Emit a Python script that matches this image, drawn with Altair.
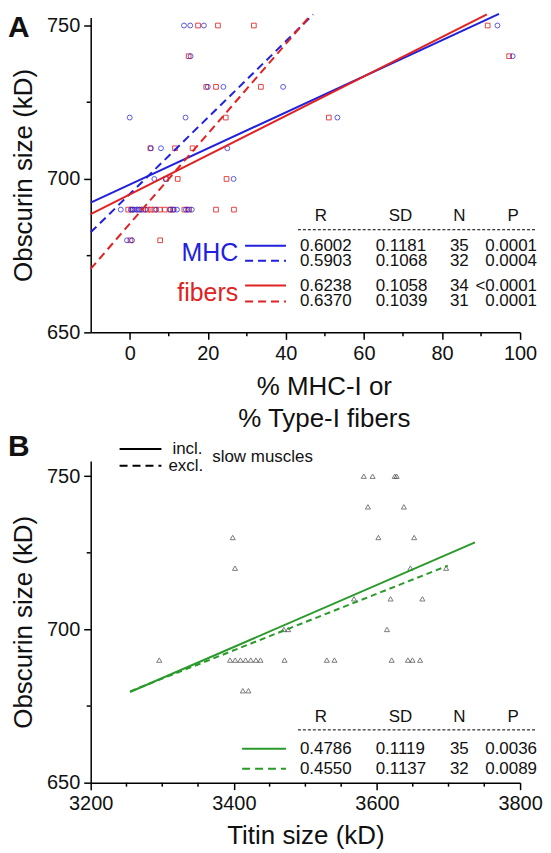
import altair as alt
import pandas as pd

# ---------------- data ----------------
# Panel A: % MHC-I (blue circles) and % Type-I fibers (red squares) vs obscurin size
mhc_x = [13.9, 15.5, 19.0, 94.2,
         15.6, 98.1,
         20.0, 24.0, 39.3,
         0.0, 14.3, 53.2,
         5.4, 8.0, 25.0,
         6.3, 9.3, 26.6,
         -2.3, 0.3, 0.8, 1.2, 1.8, 2.5, 3.0, 4.0, 6.8, 10.4, 11.3, 12.1, 14.4, 14.9, 15.9,
         -0.7, 0.6]
mhc_y = [750, 750, 750, 750,
         740, 740,
         730, 730, 730,
         720, 720, 720,
         710, 710, 710,
         700, 700, 700,
         690, 690, 690, 690, 690, 690, 690, 690, 690, 690, 690, 690, 690, 690, 690,
         680, 680]
fib_x = [17.5, 22.6, 31.8, 91.7,
         15.1, 97.2,
         19.6, 22.1, 33.6,
         24.6, 51.0,
         5.3, 11.6, 16.1,
         9.3, 12.3, 24.8,
         -0.4, 0.5, 2.2, 3.5, 4.6, 5.4, 6.3, 7.7, 9.0, 10.4, 11.1, 14.0, 15.2, 22.1, 26.7,
         0.2, 7.8]
fib_y = [750, 750, 750, 750,
         740, 740,
         730, 730, 730,
         720, 720,
         710, 710, 710,
         700, 700, 700,
         690, 690, 690, 690, 690, 690, 690, 690, 690, 690, 690, 690, 690, 690, 690,
         680, 680]

# regression lines (end points)
mhc_incl_x, mhc_incl_y = [-10, 94.6], [692.3, 753.8]
mhc_excl_x, mhc_excl_y = [-10, 47.0], [682.6, 753.6]
fib_incl_x, fib_incl_y = [-10, 91.5], [688.5, 753.6]
fib_excl_x, fib_excl_y = [-10, 45.9], [670.7, 752.7]

# Panel B: titin size vs obscurin size
titin_x = [3581.6, 3593.9, 3624.9, 3627.5,
           3587.4, 3637.6,
           3398.5, 3602.0, 3652.0,
           3401.6, 3646.7, 3696.7,
           3568.0, 3619.0, 3663.5,
           3614.0, 3470.0, 3476.0,
           3295.8, 3394.7, 3401.9, 3409.2, 3416.4, 3423.7, 3430.9, 3437.2,
           3470.9, 3529.9, 3540.6, 3620.6, 3643.3, 3649.6, 3660.3,
           3412.6, 3420.4]
titin_y = [750, 750, 750, 750,
           740, 740,
           730, 730, 730,
           720, 720, 720,
           710, 710, 710,
           700, 700, 700,
           690, 690, 690, 690, 690, 690, 690, 690,
           690, 690, 690, 690, 690, 690, 690,
           680, 680]
tit_incl_x, tit_incl_y = [3255, 3737], [679.6, 728.4]
tit_excl_x, tit_excl_y = [3255, 3699], [679.8, 720.8]

# statistics tables
table_header = ["R", "SD", "N", "P"]
table_a = [["0.6002", "0.1181", "35", "0.0001"],
           ["0.5903", "0.1068", "32", "0.0004"],
           ["0.6238", "0.1058", "34", "<0.0001"],
           ["0.6370", "0.1039", "31", "0.0001"]]
table_b = [["0.4786", "0.1119", "35", "0.0036"],
           ["0.4550", "0.1137", "32", "0.0089"]]

xA_ticks = [0, 20, 40, 60, 80, 100]
xA_minor = [10, 30, 50, 70, 90]
y_ticks = [650, 700, 750]
y_minor = [675, 725]
xB_ticks = [3200, 3400, 3600, 3800]
xB_minor = [3250, 3300, 3350, 3450, 3500, 3550, 3650, 3700, 3750]

# ---------------- styling ----------------
FONT = "Liberation Sans"
BLUE = "#2020dd"
RED = "#e02222"
GREEN = "#2a9a2a"
TXT = "#111111"
W, HA, HB = 431, 316, 323
TS = 17  # table font size

xA = alt.Scale(domain=[-10, 100], nice=False, zero=False)
yA = alt.Scale(domain=[650, 752.6], nice=False, zero=False)
xB = alt.Scale(domain=[3200, 3800], nice=False, zero=False)
yB = alt.Scale(domain=[650, 755], nice=False, zero=False)

axis_xA = alt.Axis(values=xA_ticks, title=["% MHC-I or", "% Type-I fibers"],
                   titleX=234, titleY=41, titleBaseline="top", titleLineHeight=32,
                   titleAlign="center")
axis_yA = alt.Axis(values=y_ticks, title="Obscurin size (kD)", titleX=-54,
                   titleY=HA / 2, titleAngle=270, titleBaseline="bottom", titleAlign="center")
axis_xB = alt.Axis(values=xB_ticks, format="d", title="Titin size (kD)", titleY=40,
                   titleBaseline="top", titleAlign="center")
axis_yB = alt.Axis(values=y_ticks, title="Obscurin size (kD)", titleX=-54,
                   titleY=HB / 2, titleAngle=270, titleBaseline="bottom", titleAlign="center")

one = pd.DataFrame({"t": [0]})


def txt(s, x, y, size=TS, color=TXT, align="center", baseline="middle", weight="normal"):
    return alt.Chart(pd.DataFrame({"t": [s]})).mark_text(
        font=FONT, fontSize=size, color=color, align=align, baseline=baseline,
        fontWeight=weight).encode(text="t:N", x=alt.value(x), y=alt.value(y))


def seg(x1, x2, y, color, dash=None, width=2):
    kw = dict(color=color, strokeWidth=width)
    if dash:
        kw["strokeDash"] = dash
    return alt.Chart(one).mark_rule(**kw).encode(
        x=alt.value(x1), x2=alt.value(x2), y=alt.value(y))


def line(xs, ys, sx, sy, ax, ay, color, dash=None):
    kw = dict(color=color, strokeWidth=2)
    if dash:
        kw["strokeDash"] = dash
    return alt.Chart(pd.DataFrame({"x": xs, "y": ys})).mark_line(**kw).encode(
        x=alt.X("x:Q", scale=sx, axis=ax),
        y=alt.Y("y:Q", scale=sy, axis=ay))


def minor_x(vals, scale, ax, H):
    return alt.Chart(pd.DataFrame({"x": vals})).mark_rule(color="black", strokeWidth=1.5).encode(
        x=alt.X("x:Q", scale=scale, axis=ax), y=alt.value(H), y2=alt.value(H + 4))


def minor_y(vals, scale, ax):
    return alt.Chart(pd.DataFrame({"y": vals})).mark_rule(color="black", strokeWidth=1.5).encode(
        y=alt.Y("y:Q", scale=scale, axis=ax), x=alt.value(0), x2=alt.value(-4))


def table(rows, y_head, y_rule, row_ys):
    layers = []
    for h, cx in zip(table_header, [231, 311, 370, 424]):
        layers.append(txt(h, cx, y_head))
    layers.append(seg(208, 448, y_rule, "black", dash=[3, 2], width=1))
    for r, yy in zip(rows, row_ys):
        layers.append(txt(r[0], 210, yy, align="left"))
        layers.append(txt(r[1], 286, yy, align="left"))
        layers.append(txt(r[2], 370, yy))
        layers.append(txt(r[3], 448, yy, align="right"))
    return layers


# ---------------- panel A ----------------
dfA_mhc = pd.DataFrame({"x": mhc_x, "y": mhc_y})
dfA_fib = pd.DataFrame({"x": fib_x, "y": fib_y})

ptsA_fib = alt.Chart(dfA_fib).mark_point(shape="square", filled=False, size=22,
                                         strokeWidth=1, color=RED, opacity=0.85).encode(
    x=alt.X("x:Q", scale=xA, axis=axis_xA),
    y=alt.Y("y:Q", scale=yA, axis=axis_yA))
ptsA_mhc = alt.Chart(dfA_mhc).mark_point(shape="circle", filled=False, size=24,
                                         strokeWidth=1, color=BLUE, opacity=0.75).encode(
    x=alt.X("x:Q", scale=xA, axis=axis_xA),
    y=alt.Y("y:Q", scale=yA, axis=axis_yA))

rowsA = [229, 244, 269, 285]
layersA = [ptsA_fib, ptsA_mhc,
           minor_x(xA_minor, xA, axis_xA, HA), minor_y(y_minor, yA, axis_yA),
           line(mhc_incl_x, mhc_incl_y, xA, yA, axis_xA, axis_yA, BLUE),
           line(mhc_excl_x, mhc_excl_y, xA, yA, axis_xA, axis_yA, BLUE, [8, 5]),
           line(fib_incl_x, fib_incl_y, xA, yA, axis_xA, axis_yA, RED),
           line(fib_excl_x, fib_excl_y, xA, yA, axis_xA, axis_yA, RED, [8, 5])]
layersA += table(table_a, 199, 213, rowsA)
layersA += [seg(155, 196, rowsA[0], BLUE), seg(155, 196, rowsA[1], BLUE, [8, 5]),
            seg(155, 196, rowsA[2], RED), seg(155, 196, rowsA[3], RED, [8, 5]),
            txt("MHC", 148, (rowsA[0] + rowsA[1]) / 2, size=25, color=BLUE, align="right"),
            txt("fibers", 148, (rowsA[2] + rowsA[3]) / 2, size=25, color=RED, align="right"),
            txt("A", -83, -4, size=30, align="left", baseline="top", weight="bold")]

panelA = alt.layer(*layersA).properties(width=W, height=HA)

# ---------------- panel B ----------------
dfB = pd.DataFrame({"x": titin_x, "y": titin_y})

ptsB = alt.Chart(dfB).mark_point(shape="triangle-up", filled=False, size=26,
                                 strokeWidth=1, color="#444444").encode(
    x=alt.X("x:Q", scale=xB, axis=axis_xB),
    y=alt.Y("y:Q", scale=yB, axis=axis_yB))

rowsB = [289, 309]
layersB = [ptsB, minor_x(xB_minor, xB, axis_xB, HB), minor_y(y_minor, yB, axis_yB),
           line(tit_incl_x, tit_incl_y, xB, yB, axis_xB, axis_yB, GREEN),
           line(tit_excl_x, tit_excl_y, xB, yB, axis_xB, axis_yB, GREEN, [6, 4])]
layersB += table(table_b, 257, 270, rowsB)
layersB += [seg(152, 196, rowsB[0], GREEN), seg(152, 196, rowsB[1], GREEN, [8, 5]),
            seg(29, 71, -12, "black"), seg(29, 71, 5, "black", [8, 5]),
            txt("incl.", 82, -12, size=17, align="left"),
            txt("excl.", 78, 5, size=17, align="left"),
            txt("slow muscles", 122, -4, size=17, align="left"),
            txt("B", -83, -14, size=30, align="left", weight="bold")]

panelB = alt.layer(*layersB).properties(width=W, height=HB)

chart = alt.vconcat(panelA, panelB, spacing=129, bounds="flush").properties(
    padding=0, background="white"
).configure_view(stroke=None).configure_axis(
    domainColor="black", domainWidth=1.5, tickColor="black", tickWidth=1.5, tickSize=7,
    labelFont=FONT, labelFontSize=20, labelColor=TXT, labelPadding=4, labelFlush=False,
    labelOverlap=False,
    titleFont=FONT, titleFontSize=26, titleFontWeight="normal", titleColor=TXT, grid=False
)

chart.save("out.html", embed_options={"renderer": "svg", "actions": False})
